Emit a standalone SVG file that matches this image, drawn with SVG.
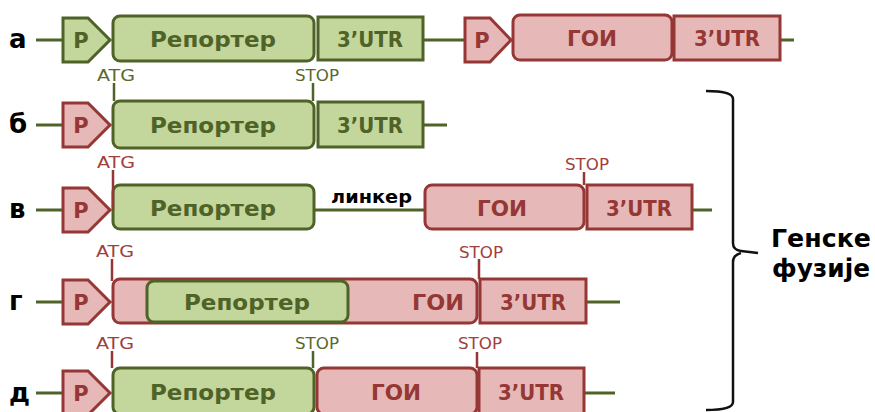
<svg xmlns="http://www.w3.org/2000/svg" width="875" height="412" viewBox="0 0 875 412">
<style>
.g{fill:#c3d69b;stroke:#4f6228;stroke-width:3}
.r{fill:#e6b9b8;stroke:#953735;stroke-width:3}
.ln{stroke:#4f6228;stroke-width:3;fill:none}
.tk{stroke-width:2.5;fill:none}
.gt{fill:#4f6228;font-family:"DejaVu Sans",sans-serif;font-weight:bold;text-anchor:middle}
.rt{fill:#953735;font-family:"DejaVu Sans",sans-serif;font-weight:bold;text-anchor:middle}
.lb{fill:#000;font-family:"DejaVu Sans",sans-serif;font-weight:bold}
.sm{font-family:"DejaVu Sans",sans-serif;font-size:15px;text-anchor:middle}
</style>
<rect width="875" height="412" fill="#fff"/>
<g id="connectors">
<path class="ln" d="M36 40H63M423 40H465M780 40H794"/>
<path class="ln" d="M36 125H63M423 125H447"/>
<path class="ln" d="M36 210H63M314 210H425M692 210H712"/>
<path class="ln" d="M36 302H63M586 302H620"/>
<path class="ln" d="M36 393H63M584 393H615"/>
</g>
<g id="row-a">
<text class="lb" x="9" y="48" font-size="26">а</text>
<g id="a-p1"><path class="g" d="M63 18H88L110 40L88 62H63Z"/><text class="gt" x="81" y="48" font-size="21">P</text></g>
<g id="a-rep"><rect class="g" x="113" y="16" width="201" height="45" rx="7"/><text class="gt" x="213" y="47" font-size="21" textLength="126" lengthAdjust="spacingAndGlyphs">Репортер</text></g>
<g id="a-utr1"><rect class="g" x="318" y="17" width="105" height="43"/><text class="gt" x="370" y="47" font-size="21" textLength="66" lengthAdjust="spacingAndGlyphs">3’UTR</text></g>
<g id="a-p2"><path class="r" d="M465 18H490L511 40L490 62H465Z"/><text class="rt" x="482" y="48" font-size="21">P</text></g>
<g id="a-goi"><rect class="r" x="513" y="15" width="159" height="45" rx="7"/><text class="rt" x="592" y="46" font-size="21" textLength="50" lengthAdjust="spacingAndGlyphs">ГОИ</text></g>
<g id="a-utr2"><rect class="r" x="674" y="16" width="106" height="44"/><text class="rt" x="727" y="46" font-size="21" textLength="66" lengthAdjust="spacingAndGlyphs">3’UTR</text></g>
<text class="sm" x="116" y="81" fill="#5b6a2a" textLength="38" lengthAdjust="spacingAndGlyphs">ATG</text>
<text class="sm" x="317" y="81" fill="#5b6a2a" textLength="44" lengthAdjust="spacingAndGlyphs">STOP</text>
<path class="tk" stroke="#4f6228" d="M114 83V101M313 83V101"/>
</g>
<g id="row-b">
<text class="lb" x="9" y="133" font-size="26">б</text>
<g id="b-p"><path class="r" d="M63 103H88L110 125L88 147H63Z"/><text class="rt" x="81" y="133" font-size="21">P</text></g>
<g id="b-rep"><rect class="g" x="113" y="101" width="201" height="47" rx="7"/><text class="gt" x="213" y="133" font-size="21" textLength="126" lengthAdjust="spacingAndGlyphs">Репортер</text></g>
<g id="b-utr"><rect class="g" x="318" y="102" width="105" height="45"/><text class="gt" x="370" y="133" font-size="21" textLength="66" lengthAdjust="spacingAndGlyphs">3’UTR</text></g>
</g>
<g id="row-v">
<text class="lb" x="9" y="218" font-size="26">в</text>
<g id="v-p"><path class="r" d="M63 188H88L110 210L88 232H63Z"/><text class="rt" x="81" y="218" font-size="21">P</text></g>
<g id="v-rep"><rect class="g" x="113" y="185" width="201" height="44" rx="7"/><text class="gt" x="213" y="216" font-size="21" textLength="126" lengthAdjust="spacingAndGlyphs">Репортер</text></g>
<text class="lb" x="331" y="203" font-size="17" textLength="81" lengthAdjust="spacingAndGlyphs">линкер</text>
<g id="v-goi"><rect class="r" x="425" y="185" width="159" height="44" rx="7"/><text class="rt" x="502" y="216" font-size="21" textLength="50" lengthAdjust="spacingAndGlyphs">ГОИ</text></g>
<g id="v-utr"><rect class="r" x="587" y="185" width="105" height="44"/><text class="rt" x="639" y="216" font-size="21" textLength="66" lengthAdjust="spacingAndGlyphs">3’UTR</text></g>
<text class="sm" x="116" y="168" fill="#a0403c" textLength="38" lengthAdjust="spacingAndGlyphs">ATG</text>
<text class="sm" x="587" y="170" fill="#a0403c" textLength="44" lengthAdjust="spacingAndGlyphs">STOP</text>
<path class="tk" stroke="#953735" d="M113 170V210M584 172V185"/>
</g>
<g id="row-g">
<text class="lb" x="9" y="310" font-size="26">г</text>
<g id="g-p"><path class="r" d="M63 280H88L110 302L88 324H63Z"/><text class="rt" x="81" y="310" font-size="21">P</text></g>
<g id="g-goi"><rect class="r" x="113" y="279" width="364" height="44" rx="7"/><text class="rt" x="438" y="310" font-size="21" textLength="52" lengthAdjust="spacingAndGlyphs">ГОИ</text></g>
<g id="g-rep"><rect class="g" x="147" y="281" width="201" height="41" rx="7"/><text class="gt" x="247" y="310" font-size="21" textLength="126" lengthAdjust="spacingAndGlyphs">Репортер</text></g>
<g id="g-utr"><rect class="r" x="480" y="279" width="106" height="44"/><text class="rt" x="533" y="310" font-size="21" textLength="66" lengthAdjust="spacingAndGlyphs">3’UTR</text></g>
<text class="sm" x="115" y="257" fill="#a0403c" textLength="38" lengthAdjust="spacingAndGlyphs">ATG</text>
<text class="sm" x="481" y="258" fill="#a0403c" textLength="44" lengthAdjust="spacingAndGlyphs">STOP</text>
<path class="tk" stroke="#953735" d="M112 259V281M479 259V279"/>
</g>
<g id="row-d">
<text class="lb" x="9" y="402" font-size="26">д</text>
<g id="d-p"><path class="r" d="M63 371H88L110 393L88 415H63Z"/><text class="rt" x="81" y="401" font-size="21">P</text></g>
<g id="d-rep"><rect class="g" x="113" y="368" width="201" height="46" rx="7"/><text class="gt" x="213" y="400" font-size="21" textLength="126" lengthAdjust="spacingAndGlyphs">Репортер</text></g>
<g id="d-goi"><rect class="r" x="317" y="368" width="160" height="46" rx="7"/><text class="rt" x="396" y="400" font-size="21" textLength="50" lengthAdjust="spacingAndGlyphs">ГОИ</text></g>
<g id="d-utr"><rect class="r" x="479" y="368" width="105" height="46"/><text class="rt" x="531" y="400" font-size="21" textLength="66" lengthAdjust="spacingAndGlyphs">3’UTR</text></g>
<text class="sm" x="115" y="349" fill="#a0403c" textLength="38" lengthAdjust="spacingAndGlyphs">ATG</text>
<text class="sm" x="317" y="349" fill="#5b6a2a" textLength="44" lengthAdjust="spacingAndGlyphs">STOP</text>
<text class="sm" x="480" y="349" fill="#a0403c" textLength="44" lengthAdjust="spacingAndGlyphs">STOP</text>
<path class="tk" stroke="#953735" d="M112 351V368M477 352V368"/>
<path class="tk" stroke="#4f6228" d="M313 351V368"/>
</g>
<g id="brace">
<path d="M706 91Q733 91 733 99V243Q733 250 741 251L758 253M741 253Q733 255 733 262V402Q733 410 706 410" fill="none" stroke="#111" stroke-width="2.5"/>
<text class="lb" x="771" y="247" font-size="24" textLength="100" lengthAdjust="spacingAndGlyphs">Генске</text>
<text class="lb" x="772" y="277" font-size="24" textLength="98" lengthAdjust="spacingAndGlyphs">фузије</text>
</g>
</svg>
